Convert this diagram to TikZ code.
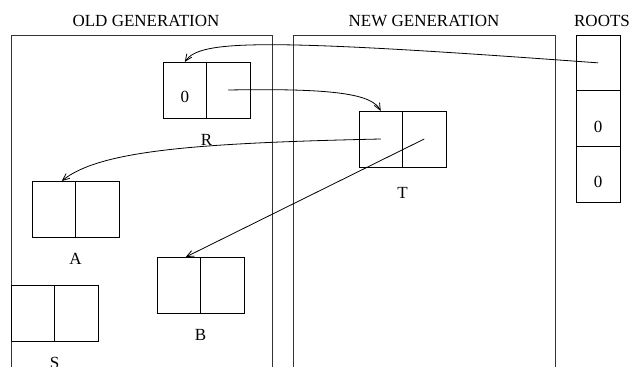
\documentclass[tikz,border=0pt]{standalone}
\usepackage{fontspec}
\setmainfont{Liberation Serif}
\usetikzlibrary{positioning,arrows.meta}

\tikzset{
  cell/.style={draw, line width=0.9pt, minimum width=43.5pt, minimum height=56pt,
    inner sep=0pt, outer sep=0pt},
  rootcell/.style={draw, line width=0.9pt, minimum width=44pt, minimum height=55.7pt,
    inner sep=0pt, outer sep=0pt},
  tag/.style={inner sep=0pt, font=\fontsize{17}{20}\selectfont},
  ptr/.style={line width=0.8pt, -{Straight Barb[length=7pt,width=6pt]}},
  region/.style={line width=0.9pt, draw=black!80}
}

\begin{document}
\begin{tikzpicture}[x=1pt,y=-1pt]
  \useasboundingbox (0,0) rectangle (633,367);

  % the two generations (open at the bottom)
  \draw[region] (11,380) -- (11,35) -- (272,35) -- (272,380);
  \draw[region] (293,380) -- (293,35) -- (555,35) -- (555,380);
  \node[tag] (oldgen) at (146,21) {OLD GENERATION};
  \node[tag] (newgen) at (424,21) {NEW GENERATION};
  \node[tag] (roots) at (602,21) {ROOTS};

  % root set
  \node[rootcell] (root1) at (598,62.85) {};
  \node[rootcell, below=0pt of root1] (root2) {};
  \node[rootcell, below=0pt of root2] (root3) {};
  \node[tag] (zroot2) at ([yshift=-8pt]root2.center) {0};
  \node[tag] (zroot3) at ([yshift=-8pt]root3.center) {0};

  % objects
  \node[cell] (Rl) at (184.75,90) {};
  \node[cell, right=0pt of Rl] (Rr) {};
  \node[tag] (zR) at ([yshift=-7pt]Rl.center) {0};
  \node[tag, below=16pt of Rl.south east] (labR) {R};

  \node[cell] (Tl) at (380.75,139) {};
  \node[cell, right=0pt of Tl] (Tr) {};
  \node[tag, below=20pt of Tl.south east] (labT) {T};

  \node[cell] (Al) at (53.75,209) {};
  \node[cell, right=0pt of Al] (Ar) {};
  \node[tag, below=16pt of Al.south east] (labA) {A};

  \node[cell] (Bl) at (178.75,285) {};
  \node[cell, right=0pt of Bl] (Br) {};
  \node[tag, below=16pt of Bl.south east] (labB) {B};

  \node[cell] (Sl) at (32.75,313) {};
  \node[cell, right=0pt of Sl] (Sr) {};
  \node[tag, below=16pt of Sl.south east] (labS) {S};

  % pointers
  \draw[ptr] (root1.center) .. controls (260,38) and (200,40) .. (Rl.north);
  \draw[ptr] (Rr.center) .. controls (340,88) and (372,95) .. (Tl.north);
  \draw[ptr] (Tl.center) .. controls (200,143) and (100,150) .. ([xshift=8pt]Al.north);
  \draw[ptr] (Tr.center) -- ([xshift=7pt]Bl.north);
\end{tikzpicture}
\end{document}
